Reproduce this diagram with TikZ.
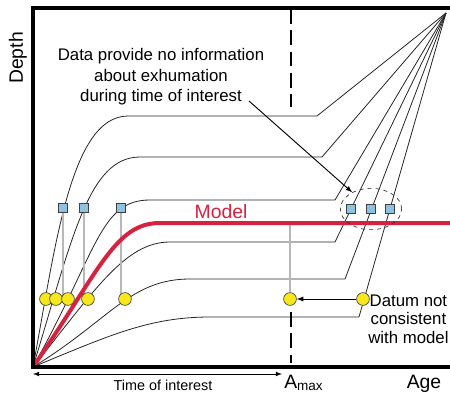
\documentclass[tikz,border=0pt]{standalone}
\usepackage{fontspec}
\setmainfont{Liberation Sans}
\usepackage{tikz}
\usetikzlibrary{shapes.geometric}
\pgfdeclarelayer{bg}
\pgfsetlayers{bg,main}
\definecolor{modelred}{HTML}{D6213F}
\definecolor{sampleblue}{HTML}{8DC3E0}
\definecolor{datumyellow}{HTML}{F8E71C}
\tikzset{tpath/.style={black!85, line width=0.6pt},
  model/.style={modelred, line width=3pt},
  tie/.style={black!28, line width=1.6pt},
  axisline/.style={line width=2.3pt, line join=miter},
  cut/.style={line width=1.9pt, dash pattern=on 11pt off 5pt},
  sample/.style={rectangle, draw=black!75, fill=sampleblue, minimum size=6.8pt, inner sep=0pt, line width=0.5pt},
  datum/.style={circle, draw=black!75, fill=datumyellow, minimum size=9.6pt, inner sep=0pt, line width=0.5pt},
  group/.style={ellipse, draw=black!80, dashed, line width=0.5pt, minimum width=46pt, minimum height=31pt},
  note/.style={align=center, inner sep=0pt, font=\fontsize{12.6}{15.4}\selectfont},
  big/.style={inner sep=0pt, font=\fontsize{14.5}{16}\selectfont}}
\begin{document}
\begin{tikzpicture}[x=0.75pt, y=-0.75pt, >=latex]
    \useasboundingbox (0,0) rectangle (450,397);
    \coordinate (o) at (33,367);
    \coordinate (tl) at (33,8);
    \coordinate (tr) at (450,8);
    \coordinate (br) at (450,367);
    \coordinate (top) at (446,13);
    \coordinate (m) at (450,223);
    \coordinate (a1) at (291,9);
    \coordinate (a2) at (291,107);
    \coordinate (a3) at (291,312);
    \coordinate (a4) at (291,363);
    \coordinate (t0) at (33,374);
    \coordinate (t1) at (282,374);
    \coordinate (tail) at (249,101);
    \node [sample] (s1) at (63,208) {};
    \node [sample] (s2) at (84,208) {};
    \node [sample] (s3) at (121,208) {};
    \node [sample] (s4) at (351,209) {};
    \node [sample] (s5) at (371,209) {};
    \node [sample] (s6) at (390,209) {};
    \node [datum] (d1) at (46,299) {};
    \node [datum] (d2) at (56,299) {};
    \node [datum] (d3) at (68,299) {};
    \node [datum] (d4) at (88,299) {};
    \node [datum] (d5) at (125,299) {};
    \node [datum] (d6) at (290,299) {};
    \node [datum] (d7) at (363,299) {};
    \node [group] (g) at (371,209) {};
    \begin{pgfonlayer}{bg}
    \draw [tpath] (o) .. controls (55,250) and (70,116) .. (128,116) -- (317,116) -- (top);
    \draw [tpath] (o) .. controls (72,240) and (88,157) .. (140,157) -- (322,157) -- (top);
    \draw [tpath] (o) .. controls (98,250) and (100,200) .. (150,200) -- (335,200) -- (top);
    \draw [tpath] (o) .. controls (95,290) and (125,242) .. (170,242) -- (335,242) -- (top);
    \draw [tpath] (o) .. controls (110,320) and (130,279) .. (190,279) -- (345,279) -- (top);
    \draw [tpath] (o) .. controls (110,335) and (150,317) .. (210,317) -- (359,317) -- (top);
    \draw [tie] (s1) -- (s1 |- d1);
    \draw [tie] (s2) -- (s2 |- d1);
    \draw [tie] (s3) -- (s3 |- d1);
    \draw [tie] (d6) -- (d6 |- m);
    \draw [model] (o) .. controls (100,270) and (115,223) .. (160,223) -- (m);
    \end{pgfonlayer}
    \draw [axisline] (tr) -- (tl) -- (o) -- (br);
    \draw [cut] (a1) -- (a2);
    \draw [cut] (a3) -- (a4);
    \draw [->, line width=0.7pt] (tail) -- (g);
    \draw [->, line width=0.7pt] (d7) -- (d6);
    \draw [<->, line width=0.6pt] (t0) -- (t1);
    \node [note] (info) at (161,77) {Data provide no information\\about exhumation\\during time of interest};
    \node [note, anchor=west, font=\fontsize{12.6}{14}\selectfont] (odd) at (368,319) {Datum not\\consistent\\with model};
    \node [big, anchor=base, text=modelred] (mlab) at (221,218) {Model};
    \node [big, rotate=90] (depth) at (18,58) {Depth};
    \node [inner sep=0pt, anchor=base, font=\fontsize{10.8}{12}\selectfont] (toi) at (163,390) {Time of interest};
    \node [big, anchor=base west] (amax) at (284,388) {A\textsubscript{max}};
    \node [big, anchor=base] (age) at (424,388) {Age};
\end{tikzpicture}
\end{document}
